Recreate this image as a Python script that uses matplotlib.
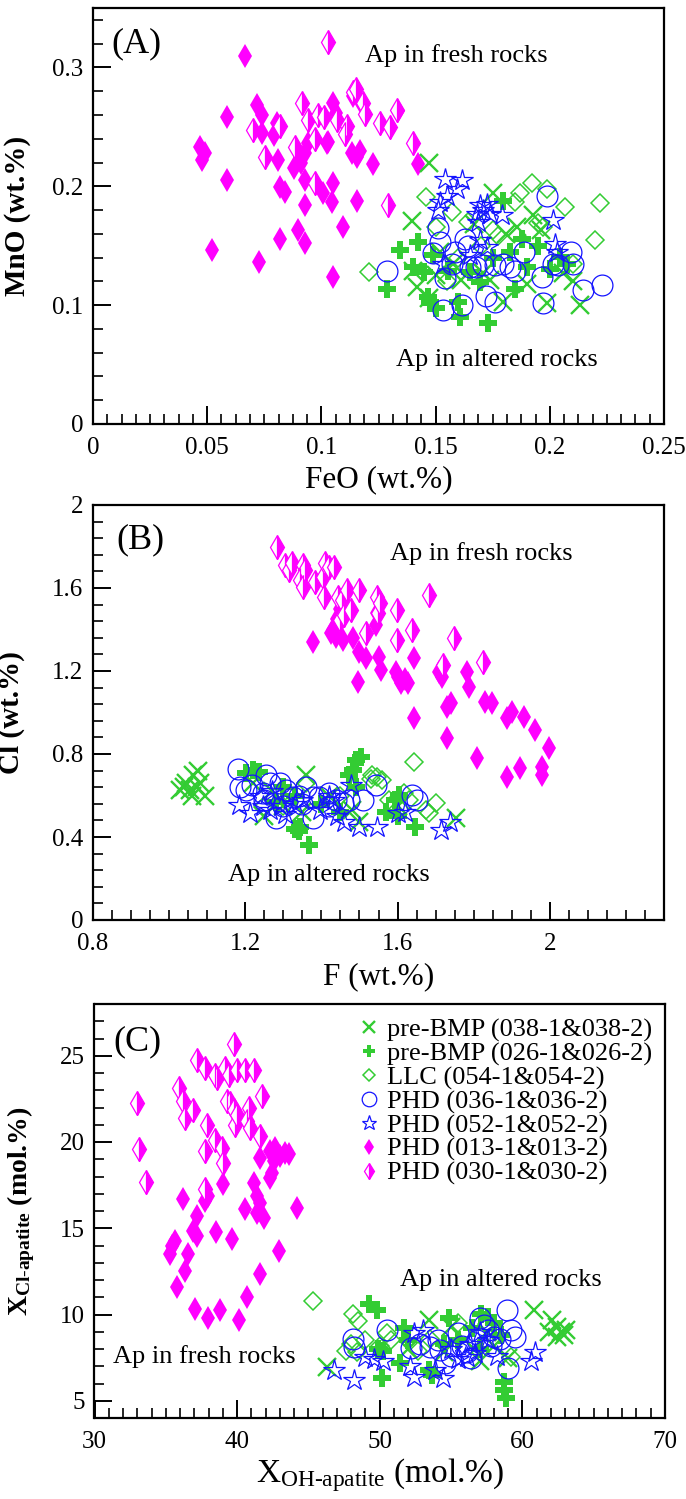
import matplotlib
matplotlib.use("Agg")
import matplotlib.pyplot as plt
from matplotlib.lines import Line2D
from matplotlib.ticker import MultipleLocator, AutoMinorLocator, FuncFormatter

plt.rcParams['font.family'] = ['Liberation Serif', 'DejaVu Serif']
plt.rcParams['mathtext.fontset'] = 'custom'
plt.rcParams['mathtext.rm'] = 'Liberation Serif'
plt.rcParams['mathtext.it'] = 'Liberation Serif:italic'
plt.rcParams['mathtext.bf'] = 'Liberation Serif:bold'

# ---------------- (A) FeO vs MnO (wt.%) ----------------
feo_pre038 = [0.147, 0.1395, 0.175, 0.1926, 0.181, 0.1855, 0.1986, 0.2133, 0.1417, 0.140,
              0.1795, 0.1576, 0.1738, 0.1707, 0.161, 0.2056, 0.152, 0.150, 0.167, 0.196, 0.190, 0.147, 0.210]
mno_pre038 = [0.220, 0.171, 0.194, 0.176, 0.160, 0.166, 0.102, 0.100, 0.115, 0.129,
              0.103, 0.135, 0.121, 0.127, 0.121, 0.127, 0.145, 0.125, 0.168, 0.163, 0.118, 0.106, 0.120]

feo_pre026 = [0.1344, 0.1423, 0.1286, 0.140, 0.1467, 0.1475, 0.1607, 0.173, 0.1795, 0.188,
              0.1848, 0.1694, 0.190, 0.2074, 0.1554, 0.1826, 0.1489, 0.2045, 0.165, 0.195,
              0.160, 0.175, 0.145, 0.200, 0.150]
mno_pre026 = [0.146, 0.153, 0.114, 0.132, 0.107, 0.102, 0.090, 0.085, 0.188, 0.156,
              0.114, 0.1195, 0.132, 0.135, 0.129, 0.1447, 0.142, 0.1406, 0.128, 0.150,
              0.103, 0.140, 0.128, 0.130, 0.098]

feo_llc054 = [0.121, 0.222, 0.2198, 0.192, 0.1986, 0.187, 0.1848, 0.2067, 0.1948, 0.197,
              0.146, 0.1773, 0.164, 0.1503, 0.175, 0.157, 0.170, 0.160, 0.210, 0.155]
mno_llc054 = [0.128, 0.186, 0.155, 0.2025, 0.198, 0.194, 0.187, 0.1826, 0.169, 0.166,
              0.191, 0.158, 0.170, 0.166, 0.163, 0.178, 0.150, 0.140, 0.135, 0.120]

feo_phd036 = [0.1286, 0.1986, 0.2227, 0.2146, 0.197, 0.1964, 0.2095, 0.2101, 0.2014, 0.2036,
              0.1887, 0.1532, 0.1614, 0.176, 0.172, 0.1541, 0.1489, 0.152, 0.151, 0.1649,
              0.1678, 0.1707, 0.1758, 0.1795, 0.1824, 0.1846, 0.1628, 0.1642, 0.1585, 0.157]
mno_phd036 = [0.129, 0.192, 0.117, 0.113, 0.102, 0.124, 0.145, 0.135, 0.135, 0.134,
              0.145, 0.096, 0.100, 0.103, 0.108, 0.123, 0.144, 0.153, 0.165, 0.132,
              0.132, 0.134, 0.134, 0.135, 0.132, 0.129, 0.156, 0.150, 0.145, 0.135]

feo_phd052 = [0.1541, 0.1614, 0.1592, 0.1548, 0.152, 0.1512, 0.1694, 0.1709, 0.1723, 0.168,
              0.1738, 0.1789, 0.1687, 0.2015, 0.2023, 0.203, 0.1694, 0.1723, 0.165, 0.1534]
mno_phd052 = [0.2065, 0.205, 0.198, 0.192, 0.187, 0.180, 0.184, 0.180, 0.185, 0.177,
              0.177, 0.1756, 0.170, 0.1714, 0.1518, 0.1448, 0.1546, 0.149, 0.142, 0.135]

feo_phd013 = [0.0665, 0.0468, 0.0476, 0.049, 0.0585, 0.0588, 0.052, 0.0727, 0.0717, 0.0739,
              0.0738, 0.0804, 0.0791, 0.081, 0.0818, 0.084, 0.0819, 0.0899, 0.0928, 0.0928,
              0.0928, 0.0906, 0.088, 0.091, 0.093, 0.094, 0.1006, 0.1052, 0.1045, 0.1023,
              0.1029, 0.1051, 0.1065, 0.105, 0.1095, 0.1155, 0.1133, 0.1155, 0.117, 0.1226,
              0.1423, 0.1335, 0.117, 0.114]
mno_phd013 = [0.310, 0.233, 0.222, 0.228, 0.258, 0.205, 0.146, 0.1364, 0.268, 0.2597,
              0.245, 0.253, 0.243, 0.222, 0.199, 0.195, 0.156, 0.163, 0.152, 0.205,
              0.184, 0.2246, 0.215, 0.220, 0.228, 0.236, 0.194, 0.2025, 0.1868, 0.236,
              0.237, 0.270, 0.262, 0.1238, 0.1658, 0.188, 0.2277, 0.2246, 0.230, 0.219,
              0.219, 0.263, 0.272, 0.276]

feo_phd030 = [0.1029, 0.0914, 0.070, 0.0753, 0.0941, 0.0985, 0.1067, 0.111, 0.1105, 0.1138,
              0.118, 0.119, 0.1257, 0.130, 0.133, 0.1401, 0.129, 0.0972, 0.0884, 0.101,
              0.097, 0.082, 0.1152]
mno_phd030 = [0.321, 0.270, 0.247, 0.2246, 0.2555, 0.260, 0.2555, 0.251, 0.244, 0.279,
              0.270, 0.261, 0.253, 0.250, 0.264, 0.236, 0.184, 0.2025, 0.233, 0.258,
              0.240, 0.251, 0.282]

# ---------------- (B) F vs Cl (wt.%) ----------------
f_pre038 = [1.045, 1.063, 1.072, 1.080, 1.054, 1.028, 1.093, 1.076, 1.040, 1.060,
            1.753, 1.360, 1.220, 1.270, 1.300, 1.420, 1.480, 1.500, 1.350, 1.600, 1.250]
cl_pre038 = [0.660, 0.700, 0.640, 0.660, 0.625, 0.625, 0.600, 0.720, 0.640, 0.600,
             0.490, 0.700, 0.660, 0.620, 0.550, 0.600, 0.530, 0.470, 0.520, 0.550, 0.500]

f_pre026 = [1.368, 1.340, 1.345, 1.330, 1.482, 1.491, 1.504, 1.473, 1.645, 1.203,
            1.220, 1.237, 1.593, 1.605, 1.300, 1.280, 1.330, 1.400, 1.450, 1.490, 1.600, 1.570]
cl_pre026 = [0.361, 0.430, 0.450, 0.440, 0.723, 0.771, 0.787, 0.699, 0.450, 0.707,
             0.723, 0.715, 0.578, 0.602, 0.640, 0.570, 0.600, 0.560, 0.520, 0.640, 0.500, 0.520]

f_llc054 = [1.643, 1.534, 1.547, 1.560, 1.700, 1.674, 1.683, 1.578, 1.616, 1.360,
            1.247, 1.530, 1.630, 1.450, 1.300]
cl_llc054 = [0.763, 0.699, 0.691, 0.675, 0.562, 0.530, 0.514, 0.578, 0.610, 0.660,
             0.546, 0.680, 0.580, 0.600, 0.550]

f_phd036 = [1.180, 1.185, 1.203, 1.255, 1.264, 1.290, 1.307, 1.325, 1.281, 1.360,
            1.377, 1.377, 1.395, 1.420, 1.438, 1.456, 1.473, 1.508, 1.543, 1.639,
            1.652, 1.218, 1.247, 1.340, 1.300, 1.350, 1.420, 1.250]
cl_phd036 = [0.730, 0.642, 0.627, 0.699, 0.659, 0.659, 0.627, 0.594, 0.490, 0.642,
             0.594, 0.490, 0.594, 0.610, 0.578, 0.562, 0.578, 0.578, 0.651, 0.602,
             0.578, 0.650, 0.610, 0.600, 0.550, 0.560, 0.550, 0.580]

f_phd052 = [1.184, 1.213, 1.247, 1.265, 1.293, 1.305, 1.397, 1.432, 1.460, 1.478,
            1.500, 1.547, 1.600, 1.620, 1.714, 1.737, 1.350, 1.420, 1.440, 1.330, 1.240, 1.270]
cl_phd052 = [0.554, 0.514, 0.550, 0.530, 0.550, 0.510, 0.530, 0.578, 0.474, 0.650,
             0.450, 0.450, 0.514, 0.522, 0.434, 0.474, 0.580, 0.600, 0.500, 0.560, 0.600, 0.620]

f_phd013 = [1.377, 1.425, 1.438, 1.456, 1.482, 1.499, 1.517, 1.495, 1.552, 1.556,
            1.595, 1.600, 1.610, 1.627, 1.620, 1.643, 1.643, 1.709, 1.718, 1.731,
            1.740, 1.731, 1.783, 1.788, 1.809, 1.831, 1.849, 1.888, 1.901, 1.888,
            1.923, 1.932, 1.960, 1.980, 1.980, 1.999, 1.445, 1.450, 1.440, 1.543, 1.547, 1.430]
cl_phd013 = [1.341, 1.383, 1.365, 1.349, 1.357, 1.293, 1.261, 1.148, 1.269, 1.205,
             1.196, 1.172, 1.140, 1.140, 1.160, 0.972, 1.261, 1.196, 1.173, 1.028,
             1.044, 0.876, 1.196, 1.124, 0.779, 1.052, 1.044, 0.972, 1.004, 0.691,
             0.731, 0.980, 0.916, 0.739, 0.699, 0.827, 1.550, 1.500, 1.450, 1.420, 1.480, 1.400]

f_phd030 = [1.284, 1.305, 1.316, 1.322, 1.351, 1.357, 1.345, 1.351, 1.383, 1.403,
            1.409, 1.420, 1.432, 1.406, 1.443, 1.455, 1.466, 1.478, 1.449, 1.500,
            1.518, 1.545, 1.549, 1.599, 1.599, 1.639, 1.683, 1.720, 1.749, 1.824, 1.553, 1.460]
cl_phd030 = [1.796, 1.711, 1.687, 1.719, 1.711, 1.687, 1.639, 1.606, 1.630, 1.655,
             1.719, 1.703, 1.703, 1.558, 1.558, 1.542, 1.590, 1.494, 1.446, 1.590,
             1.381, 1.558, 1.478, 1.494, 1.349, 1.397, 1.566, 1.229, 1.357, 1.245, 1.526, 1.470]

# ---------------- (C) X_OH vs X_Cl apatite (mol.%) ----------------
xoh_pre038 = [60.81, 62.10, 62.46, 62.69, 62.92, 61.87, 62.46, 63.04, 53.44, 46.30,
              55.00, 57.50, 58.00, 56.00, 54.50, 59.00, 52.00, 57.00]
xcl_pre038 = [10.24, 9.67, 9.28, 9.00, 8.80, 9.00, 8.70, 9.09, 9.67, 6.98,
              9.30, 9.00, 8.20, 8.50, 7.80, 7.50, 8.00, 7.30]

xoh_pre026 = [49.23, 49.82, 50.17, 51.45, 51.69, 53.68, 53.44, 54.84, 57.10, 57.57,
              58.73, 58.73, 58.83, 49.90, 50.20, 55.50, 56.50, 58.00, 54.50, 52.00, 57.00, 58.50]
xcl_pre026 = [10.63, 10.24, 6.31, 7.17, 9.19, 6.50, 6.79, 9.77, 10.05, 9.86,
              6.11, 5.63, 5.16, 8.00, 7.90, 8.50, 9.20, 9.50, 8.30, 8.50, 8.00, 8.80]

xoh_llc054 = [45.35, 48.10, 48.50, 47.60, 48.00, 48.40, 50.50, 50.80, 52.70, 59.20,
              49.00, 50.00, 53.50, 55.50, 57.50]
xcl_llc054 = [10.80, 10.05, 9.60, 7.90, 8.30, 7.80, 8.90, 8.50, 7.90, 7.55,
              8.50, 8.20, 8.60, 9.50, 9.40]

xoh_phd036 = [48.10, 48.20, 50.50, 52.20, 52.85, 54.10, 54.25, 55.50, 55.80, 56.10,
              56.40, 57.00, 57.30, 57.60, 58.00, 58.90, 59.20, 59.50, 59.00, 55.00,
              54.60, 56.80, 57.80, 58.40, 53.50]
xcl_phd036 = [8.60, 8.10, 9.10, 8.05, 8.30, 8.50, 7.95, 8.90, 8.20, 7.80,
              7.50, 9.80, 9.40, 9.10, 8.70, 10.25, 9.10, 8.70, 6.90, 7.60,
              7.20, 8.50, 8.20, 8.60, 8.10]

xoh_phd052 = [46.80, 48.20, 49.00, 49.60, 50.20, 52.10, 52.40, 52.40, 53.00, 53.90,
              54.40, 55.50, 56.10, 56.70, 57.00, 57.60, 60.60, 60.90, 55.00, 58.20, 56.30]
xcl_phd052 = [6.80, 6.20, 7.55, 7.40, 7.30, 7.00, 6.40, 8.90, 9.10, 6.80,
              6.30, 7.40, 7.55, 7.75, 9.00, 8.50, 7.30, 7.85, 8.00, 7.60, 8.30]

xoh_phd013 = [36.24, 37.76, 37.99, 37.18, 36.94, 37.18, 35.42, 35.65, 35.30, 36.59,
              36.36, 35.77, 38.53, 39.63, 39.00, 37.06, 37.99, 38.81, 40.10, 40.69,
              41.62, 41.62, 42.32, 42.68, 43.03, 43.38, 43.61, 42.56, 42.32, 42.44,
              41.15, 41.39, 41.62, 41.39, 41.86, 40.57, 44.20, 42.91]
xcl_phd013 = [16.68, 16.58, 16.87, 15.72, 14.86, 14.57, 13.99, 14.28, 13.53, 13.51,
              12.55, 11.59, 14.76, 14.38, 17.55, 10.34, 9.77, 10.24, 9.67, 11.01,
              12.36, 19.08, 19.47, 19.66, 19.18, 19.37, 19.28, 18.89, 17.93, 18.22,
              17.64, 16.87, 16.49, 15.91, 15.62, 16.11, 16.20, 13.70]

xoh_phd030 = [32.96, 33.15, 33.62, 35.89, 36.19, 36.36, 36.94, 37.18, 37.76, 38.58,
              38.46, 39.16, 39.40, 39.52, 39.28, 39.75, 39.99, 40.57, 41.15, 39.75,
              39.87, 39.99, 40.80, 40.69, 40.92, 41.62, 41.74, 37.76, 38.46, 38.93,
              39.00, 37.88, 37.76]
xcl_phd030 = [22.25, 19.62, 17.70, 23.12, 22.35, 21.39, 21.87, 24.75, 24.27, 23.69,
              23.89, 24.27, 23.89, 22.25, 22.35, 25.71, 24.17, 24.17, 24.17, 21.87,
              21.01, 21.58, 21.96, 21.20, 20.81, 20.33, 22.64, 19.47, 20.14, 19.66,
              18.79, 21.00, 17.26]

legend_labels = ['pre-BMP (038-1&038-2)', 'pre-BMP (026-1&026-2)', 'LLC (054-1&054-2)',
                 'PHD (036-1&036-2)', 'PHD (052-1&052-2)', 'PHD (013-1&013-2)',
                 'PHD (030-1&030-2)']

green = '#33CC33'
blue = '#1414FF'
magenta = '#FF00FF'

# one style per sample, same order as legend_labels
styles = [
    dict(marker='x', ms=13, mew=1.7, color=green),
    dict(marker='P', ms=13, mew=0, color=green),
    dict(marker='D', ms=9, mew=1.1, mfc='none', mec=green),
    dict(marker='o', ms=15, mew=0.9, mfc='none', mec=blue),
    dict(marker='*', ms=16, mew=0.9, mfc='none', mec=blue),
    dict(marker='d', ms=12, mew=0, color=magenta),
    dict(marker='d', ms=12, mew=0.9, fillstyle='right', mfc=magenta,
         markerfacecoloralt='white', mec=magenta),
]

panel_data = [
    [(feo_pre038, mno_pre038), (feo_pre026, mno_pre026), (feo_llc054, mno_llc054),
     (feo_phd036, mno_phd036), (feo_phd052, mno_phd052), (feo_phd013, mno_phd013),
     (feo_phd030, mno_phd030)],
    [(f_pre038, cl_pre038), (f_pre026, cl_pre026), (f_llc054, cl_llc054),
     (f_phd036, cl_phd036), (f_phd052, cl_phd052), (f_phd013, cl_phd013),
     (f_phd030, cl_phd030)],
    [(xoh_pre038, xcl_pre038), (xoh_pre026, xcl_pre026), (xoh_llc054, xcl_llc054),
     (xoh_phd036, xcl_phd036), (xoh_phd052, xcl_phd052), (xoh_phd013, xcl_phd013),
     (xoh_phd030, xcl_phd030)],
]
# drawing order: magenta first, then greens, blues on top
draw_order = [5, 6, 0, 1, 2, 3, 4]

fig = plt.figure(figsize=(6.86, 14.99), dpi=100)
W, H = 686, 1499
ax_a = fig.add_axes([93 / W, 1 - 424 / H, 571 / W, 416 / H])
ax_b = fig.add_axes([93 / W, 1 - 920 / H, 571 / W, 415 / H])
ax_c = fig.add_axes([94.5 / W, 1 - 1418 / H, 570.5 / W, 414 / H])

fmt = FuncFormatter(lambda v, p: '%g' % round(v, 4))


def style_axes(ax, xmaj, xmin_n, ymaj, ymin_n):
    ax.xaxis.set_major_locator(MultipleLocator(xmaj))
    ax.xaxis.set_minor_locator(AutoMinorLocator(xmin_n))
    ax.yaxis.set_major_locator(MultipleLocator(ymaj))
    ax.yaxis.set_minor_locator(AutoMinorLocator(ymin_n))
    ax.xaxis.set_major_formatter(fmt)
    ax.yaxis.set_major_formatter(fmt)
    ax.tick_params(which='both', direction='in', top=False, right=False, labelsize=18)
    ax.tick_params(which='major', length=13, width=1.4)
    ax.tick_params(axis='x', which='major', pad=9)
    ax.tick_params(axis='y', which='major', pad=7)
    ax.tick_params(which='minor', length=7, width=1.2)
    for s in ax.spines.values():
        s.set_linewidth(1.6)


for ax, data in zip([ax_a, ax_b, ax_c], panel_data):
    for k in draw_order:
        x, y = data[k]
        ax.plot(x, y, linestyle='none', **styles[k])

# (A)
ax_a.set_xlim(0, 0.25)
ax_a.set_ylim(0, 0.35)
style_axes(ax_a, 0.05, 8, 0.1, 5)
ax_a.set_xlabel('FeO (wt.%)', fontsize=22.5)
ax_a.set_ylabel('MnO (wt.%)', fontsize=21, fontweight='bold')
ax_a.xaxis.set_label_coords(0.5, -0.1)
ax_a.yaxis.set_label_coords(-0.109, 0.5)
ax_a.text(0.033, 0.915, '(A)', transform=ax_a.transAxes, fontsize=26, va='center')
ax_a.text(0.119, 0.310, 'Ap in fresh rocks', fontsize=19, va='center')
ax_a.text(0.1327, 0.054, 'Ap in altered rocks', fontsize=19, va='center')

# (B)
ax_b.set_xlim(0.8, 2.3)
ax_b.set_ylim(0, 2)
style_axes(ax_b, 0.4, 8, 0.4, 5)
ax_b.set_xlabel('F (wt.%)', fontsize=22.5)
ax_b.set_ylabel('Cl (wt.%)', fontsize=21, fontweight='bold')
ax_b.xaxis.set_label_coords(0.5, -0.102)
ax_b.yaxis.set_label_coords(-0.119, 0.5)
ax_b.text(0.041, 0.916, '(B)', transform=ax_b.transAxes, fontsize=26, va='center')
ax_b.text(1.58, 1.767, 'Ap in fresh rocks', fontsize=19, va='center')
ax_b.text(1.155, 0.217, 'Ap in altered rocks', fontsize=19, va='center')

# (C)
ax_c.set_xlim(30, 70)
ax_c.set_ylim(4, 28)
style_axes(ax_c, 10, 10, 5, 5)
ax_c.set_xlabel(r'X$_{\mathrm{OH\text{-}apatite}}$ (mol.%)', fontsize=24)
ax_c.set_ylabel(r'X$_{\mathbf{Cl\text{-}apatite}}$ (mol.%)', fontsize=20, fontweight='bold')
ax_c.xaxis.set_label_coords(0.5, -0.092)
ax_c.yaxis.set_label_coords(-0.1, 0.5)
ax_c.text(0.033, 0.908, '(C)', transform=ax_c.transAxes, fontsize=26, va='center')
ax_c.text(51.4, 12.0, 'Ap in altered rocks', fontsize=19, va='center')
ax_c.text(31.33, 7.56, 'Ap in fresh rocks', fontsize=19, va='center')

handles = [Line2D([], [], linestyle='none', **st) for st in styles]
ax_c.legend(handles, legend_labels, loc='upper left', bbox_to_anchor=(0.458, 0.966),
            frameon=False, fontsize=19, markerscale=0.7, handlelength=1.0,
            handletextpad=0.2, labelspacing=0.0, borderpad=0, borderaxespad=0)

fig.savefig('out.png', dpi=100)
